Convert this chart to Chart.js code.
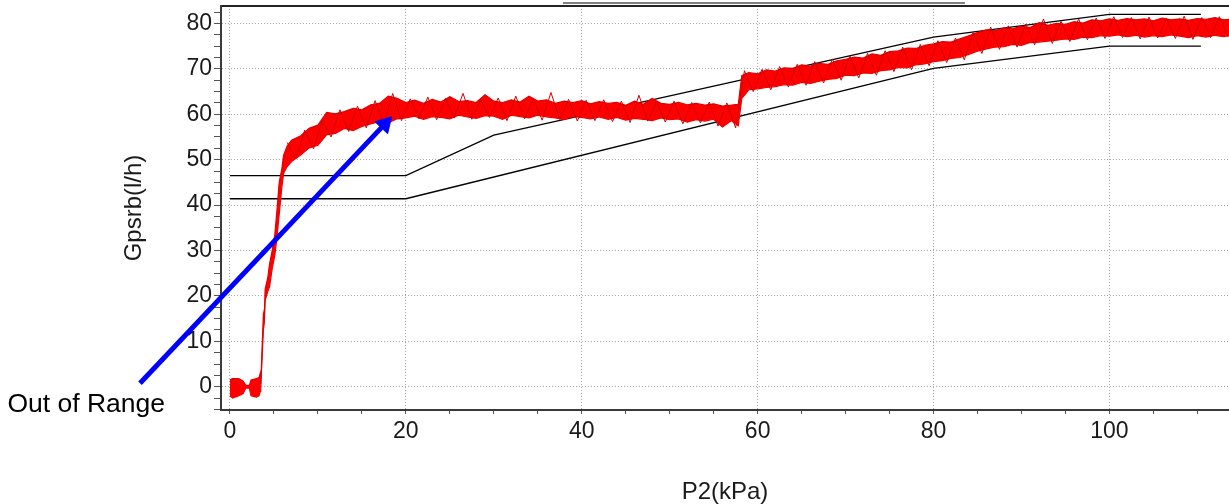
<!DOCTYPE html>
<html>
<head>
<meta charset="utf-8">
<script src="https://cdn.jsdelivr.net/npm/chart.js@4/dist/chart.umd.min.js"></script>
<style>
  html, body { margin: 0; padding: 0; background: #ffffff; overflow: hidden; }
  #wrap { position: relative; width: 1229px; height: 504px; }
</style>
</head>
<body>
<div id="wrap"><canvas id="c"></canvas></div>
<script>
// ---- data ----
// red measured signal, shown as its band (lowest / highest reading) at each P2
const bandP2 = [0, 0.3, 1.0, 1.5, 1.8, 2.2, 2.4, 3.0, 3.3, 3.45, 3.5, 3.8, 3.9, 4.0, 4.3, 4.5, 4.8, 5.1, 5.35, 5.6, 5.9, 6.1, 6.5,
  7, 8, 9, 10, 11, 12, 13, 14, 15, 16, 17, 18, 19, 20, 21, 22, 23, 24, 25, 26, 27, 28, 29, 30,
  31, 32, 33, 34, 35, 36, 37, 38, 39, 40, 41, 42, 43, 44, 45, 46, 47, 48, 49, 50,
  51, 52, 53, 54, 55, 56, 57, 57.8, 58.2, 59, 60, 61, 62, 63, 64, 65, 66, 67, 68, 69, 70,
  71, 72, 73, 74, 75, 76, 77, 78, 79, 80, 81, 82, 83, 84, 85, 86, 87, 88, 89, 90,
  91, 92, 93, 94, 95, 96, 97, 98, 99, 100, 101, 102, 103, 104, 105, 106, 107, 108, 109, 110,
  111, 112, 113, 113.6];
const bandLow = [-2, -2.5, -2, -1.5, -0.3, -0.3, -2, -2.3, -2, -1, 0, 12.5, 14, 19, 21, 22, 26, 29, 33, 38, 44, 47, 48.5,
  49.6, 51.0, 52.6, 53.2, 55.5, 55.8, 56.9, 56.4, 57.3, 57.9, 58.4, 58.1, 59.0, 59.2, 59.6, 58.9, 59.5, 59.3, 59.0, 59.8, 59.4, 59.1, 59.7, 59.6,
  58.9, 59.8, 59.5, 59.2, 59.8, 59.4, 59.2, 58.8, 59.5, 59.3, 59.0, 59.4, 58.9, 59.3, 58.7, 59.1, 58.9, 58.6, 59.2, 58.8,
  59.0, 58.3, 58.8, 58.5, 58.9, 57.2, 58.6, 57.5, 63.5, 65.4, 65.6, 65.9, 66.1, 66.5, 66.4, 67.0, 66.8, 67.3, 67.7, 67.9, 68.6,
  68.5, 69.1, 69.0, 69.6, 69.8, 70.3, 70.2, 70.9, 71.1, 71.6, 71.8, 72.3, 72.5, 73.2, 73.9, 74.4, 74.8, 74.9, 75.4, 75.2,
  75.8, 75.9, 76.1, 76.3, 76.6, 76.5, 77.0, 76.9, 77.3, 77.2, 77.5, 77.1, 77.4, 77.0, 77.3, 77.1, 77.5, 77.2, 76.9, 77.3,
  77.0, 77.4, 77.1, 77.3];
const bandHigh = [1.5, 1.8, 1.8, 1.2, 0.3, 0.3, 1.5, 1.8, 2, 3, 0.6, 16, 15, 21.5, 24, 27, 30, 33.5, 39, 45, 48, 51, 53,
  54.3, 55.2, 56.9, 57.6, 60.4, 60.1, 60.6, 61.3, 61.0, 62.1, 62.4, 64.0, 63.5, 62.6, 63.1, 62.4, 63.3, 62.7, 63.9, 62.8, 63.0, 62.6, 64.3, 62.9,
  62.6, 63.2, 62.7, 64.0, 62.9, 63.2, 62.4, 62.9, 62.6, 63.0, 62.3, 62.8, 62.4, 62.6, 62.0, 62.9, 62.2, 63.5, 62.4, 62.2,
  62.6, 62.1, 62.4, 62.0, 62.3, 61.8, 62.0, 62.2, 68.5, 69.2, 68.9, 69.8, 69.5, 70.2, 70.1, 70.9, 70.6, 71.2, 71.0, 71.8, 72.1,
  72.6, 72.4, 73.3, 73.0, 73.8, 74.0, 74.6, 74.5, 75.2, 75.5, 76.0, 75.9, 76.6, 77.3, 78.0, 78.6, 78.4, 79.0, 78.8, 79.4,
  79.1, 80.2, 79.6, 80.0, 79.8, 80.4, 80.1, 80.8, 80.6, 81.0, 80.7, 81.1, 80.8, 81.0, 80.6, 81.2, 80.8, 81.0, 80.7, 81.1,
  80.9, 81.3, 80.8, 80.9];

// individual spikes of the red trace (darker streaks inside the band)
const traceP2 = [6.5, 7.5, 8.5, 9.5, 10.5, 11.5, 12.5, 13.5, 14.5, 15.5, 16.5, 17.5, 18.5, 19.5, 20.5, 21.5, 22.5, 23.5, 24.5, 25.5,
  26.5, 27.5, 28.5, 29.5, 30.5, 31.5, 32.5, 33.5, 34.5, 35.5, 36.5, 37.5, 38.5, 39.5, 40.5, 41.5, 42.5, 43.5, 44.5, 45.5,
  46.5, 47.5, 48.5, 49.5, 50.5, 51.5, 52.5, 53.5, 54.5, 55.5, 56.5, 57.5, 58.5, 59.5, 60.5, 61.5, 62.5, 63.5, 64.5, 65.5,
  66.5, 67.5, 68.5, 69.5, 70.5, 71.5, 72.5, 73.5, 74.5, 75.5, 76.5, 77.5, 78.5, 79.5, 80.5, 81.5, 82.5, 83.5, 84.5, 85.5,
  86.5, 87.5, 88.5, 89.5, 90.5, 91.5, 92.5, 93.5, 94.5, 95.5, 96.5, 97.5, 98.5, 99.5, 100.5, 101.5, 102.5, 103.5, 104.5, 105.5,
  106.5, 107.5, 108.5, 109.5, 110.5, 111.5, 112.5, 113.5];
const traceG = [53.8, 50.3, 56.5, 52.4, 58.6, 55.0, 61.0, 56.2, 61.8, 57.0, 63.0, 57.8, 64.6, 58.6, 63.4, 59.0, 63.8, 58.8, 63.5, 59.2,
  64.6, 58.9, 63.2, 59.3, 63.6, 58.6, 64.0, 59.0, 63.4, 58.7, 64.8, 58.9, 63.3, 58.5, 63.1, 58.6, 63.2, 58.4, 62.9, 58.2,
  64.2, 58.5, 62.8, 58.3, 62.9, 57.9, 62.6, 58.1, 62.7, 57.4, 62.5, 57.0, 69.6, 65.0, 69.9, 65.4, 70.5, 66.0, 71.0, 66.4,
  71.6, 66.9, 72.2, 67.5, 72.9, 68.0, 73.4, 68.6, 74.0, 69.4, 74.8, 69.8, 75.4, 70.7, 76.2, 71.4, 76.8, 72.0, 78.0, 73.4,
  79.2, 74.3, 79.5, 74.8, 79.9, 75.3, 81.0, 75.6, 80.5, 76.0, 81.0, 76.4, 81.2, 76.7, 81.5, 76.9, 81.3, 76.6, 81.4, 76.8,
  81.1, 76.7, 81.6, 76.5, 81.3, 76.9, 81.5, 77.0];

// black tolerance limits
const limitP2 = [0, 20, 30, 80, 100, 110.4];
const limitUpper = [46.5, 46.5, 55.4, 77, 82, 82];
const limitLowP2 = [0, 20, 80, 100, 110.4];
const limitLower = [41.4, 41.4, 70.1, 75, 75];

// blue annotation arrow (tail, head) in chart units
const arrowP2 = [-10.23, 17.6];
const arrowG = [0.75, 57.84];
const arrowLabel = 'Out of Range';

// axes
const xTitle = 'P2(kPa)';
const yTitle = 'Gpsrb(l/h)';
const xMin = -1.02, xMax = 113.6, xStep = 5, xLabelEvery = 20;
const yMin = -5.13, yMax = 83.85, yStep = 2.5, yLabelEvery = 10;

// ---- build ----
const pts = (xs, ys) => xs.map((x, i) => ({x: x, y: ys[i]}));
const FONT = 'Liberation Sans, Arial, sans-serif';

const annotate = {
  id: 'annotate',
  afterDatasetsDraw(chart) {
    const ctx = chart.ctx;
    const xs = chart.scales.x, ys = chart.scales.y;
    const sx = xs.getPixelForValue(arrowP2[0]);
    const sy = ys.getPixelForValue(arrowG[0]);
    ctx.save();
    ctx.fillStyle = '#000000';
    ctx.font = '26.5px ' + FONT;
    ctx.textAlign = 'right';
    ctx.textBaseline = 'alphabetic';
    ctx.fillText(arrowLabel, sx + 25, sy + 29);
    // faint remnant of a box edge above the plot
    ctx.strokeStyle = '#555555';
    ctx.lineWidth = 1.5;
    ctx.beginPath();
    ctx.moveTo(xs.getPixelForValue(37.86), chart.chartArea.top - 3);
    ctx.lineTo(xs.getPixelForValue(83.57), chart.chartArea.top - 3);
    ctx.stroke();
    ctx.restore();
  }
};

const headRotation = (ctx) => {
  const ch = ctx.chart;
  const xs = ch.scales.x, ys = ch.scales.y;
  const dx = xs.getPixelForValue(arrowP2[1]) - xs.getPixelForValue(arrowP2[0]);
  const dy = ys.getPixelForValue(arrowG[1]) - ys.getPixelForValue(arrowG[0]);
  return Math.atan2(dx, -dy) * 180 / Math.PI;
};

const noPad = (s) => { s.paddingLeft = 0; s.paddingRight = 0; s.paddingTop = 0; s.paddingBottom = 0; };

new Chart(document.getElementById('c'), {
  type: 'line',
  data: {
    datasets: [
      {
        label: 'arrow',
        data: pts(arrowP2, arrowG),
        borderColor: '#0000ff',
        backgroundColor: '#0000ff',
        borderWidth: 5,
        pointRadius: [0, 10],
        pointStyle: 'triangle',
        pointRotation: headRotation,
        pointBackgroundColor: '#0000ff',
        pointBorderColor: '#0000ff',
        pointBorderWidth: 1,
        clip: false,
        fill: false
      },
      {
        label: 'signal spikes',
        data: pts(traceP2, traceG),
        borderColor: '#d00000',
        borderWidth: 1,
        pointRadius: 0,
        fill: false
      },
      {
        label: 'signal high',
        data: pts(bandP2, bandHigh),
        borderColor: '#e00000',
        backgroundColor: '#ff0000',
        borderWidth: 1.2,
        pointRadius: 0,
        fill: '+1'
      },
      {
        label: 'signal low',
        data: pts(bandP2, bandLow),
        borderColor: '#e00000',
        borderWidth: 1.2,
        pointRadius: 0,
        fill: false
      },
      {
        label: 'upper limit',
        data: pts(limitP2, limitUpper),
        borderColor: '#000000',
        borderWidth: 1.3,
        pointRadius: 0,
        fill: false
      },
      {
        label: 'lower limit',
        data: pts(limitLowP2, limitLower),
        borderColor: '#000000',
        borderWidth: 1.3,
        pointRadius: 0,
        fill: false
      }
    ]
  },
  options: {
    responsive: true,
    maintainAspectRatio: false,
    animation: false,
    events: [],
    layout: { autoPadding: false, padding: { left: 0, right: 0, top: 0, bottom: 0 } },
    plugins: { legend: { display: false }, tooltip: { enabled: false } },
    elements: { line: { tension: 0 } },
    scales: {
      x: {
        type: 'linear',
        position: 'bottom',
        min: xMin, max: xMax,
        afterFit: (s) => { s.height = 94; noPad(s); },
        ticks: {
          stepSize: xStep,
          includeBounds: false,
          autoSkip: false,
          maxRotation: 0,
          padding: 4,
          color: '#1a1a1a',
          font: { family: FONT, size: 23 },
          callback: (v) => (Math.abs(v % xLabelEvery) < 1e-6 ? String(Math.round(v)) : '')
        },
        grid: {
          drawOnChartArea: true,
          color: (c) => (c.tick && Math.abs(c.tick.value % xLabelEvery) < 1e-6 ? '#a8a8a8' : 'rgba(0,0,0,0)'),
          lineWidth: 1,
          tickLength: 4,
          tickColor: '#555555',
          tickWidth: 1
        },
        border: { display: true, color: '#3a3a3a', width: 2, dash: [1, 2] },
        title: {
          display: true, text: xTitle, color: '#1a1a1a',
          font: { family: FONT, size: 24, lineHeight: 1 },
          padding: { top: 0, bottom: 0 }
        }
      },
      x2: {
        type: 'linear',
        position: 'top',
        min: xMin, max: xMax,
        afterFit: (s) => { s.height = 6; noPad(s); },
        ticks: { display: false },
        grid: { display: false },
        border: { display: true, color: '#222222', width: 2 }
      },
      y: {
        type: 'linear',
        position: 'left',
        min: yMin, max: yMax,
        afterFit: (s) => { s.width = 221; noPad(s); },
        ticks: {
          stepSize: yStep,
          includeBounds: false,
          autoSkip: false,
          padding: 2,
          color: '#1a1a1a',
          font: { family: FONT, size: 23 },
          callback: (v) => (Math.abs(v % yLabelEvery) < 1e-6 ? String(Math.round(v)) : '')
        },
        grid: {
          drawOnChartArea: true,
          color: (c) => (c.tick && Math.abs(c.tick.value % yLabelEvery) < 1e-6 ? '#a8a8a8' : 'rgba(0,0,0,0)'),
          lineWidth: 1,
          tickLength: 7,
          tickColor: '#555555',
          tickWidth: 1
        },
        border: { display: true, color: '#3a3a3a', width: 2, dash: [1, 2] },
        title: {
          display: true, text: yTitle, color: '#1a1a1a',
          font: { family: FONT, size: 24, lineHeight: 1 },
          padding: { top: 122, bottom: 0 }
        }
      }
    }
  },
  plugins: [annotate]
});
</script>
</body>
</html>
